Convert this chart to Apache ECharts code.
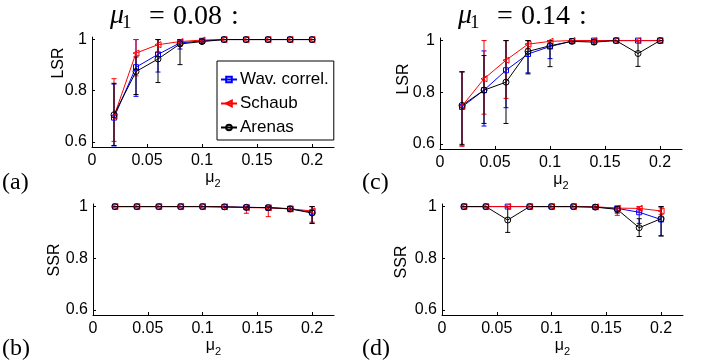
<!DOCTYPE html>
<html>
<head>
<meta charset="utf-8">
<script src="https://cdn.jsdelivr.net/npm/echarts@6/dist/echarts.min.js"></script>
<style>
html, body { margin: 0; padding: 0; background: #fff; }
#chart { width: 702px; height: 364px; }
</style>
</head>
<body>
<div id="chart"></div>
<script>
// mu_2 values on the x axis
const mu2 = [0.02, 0.04, 0.06, 0.08, 0.10, 0.12, 0.14, 0.16, 0.18, 0.20]
const xTicks = [0, 0.05, 0.1, 0.15, 0.2]
const yTicks = [0.6, 0.8, 1]
const names = ['Wav. correl.', 'Schaub', 'Arenas']
const mu1Values = ['0.08', '0.14']
const panelLetters = ['(a)', '(b)', '(c)', '(d)']

// (a) LSR, mu1 = 0.08
const lsrA_wav    = [0.695, 0.892, 0.942, 0.987, 0.995, 1, 1, 1, 1, 1]
const lsrA_wavLo  = [0.584, 0.778, 0.873, 0.963, 0.985, 1, 1, 1, 1, 1]
const lsrA_wavHi  = [0.826, 1, 1, 1, 1, 1, 1, 1, 1, 1]
const lsrA_sch    = [0.700, 0.947, 0.980, 0.992, 0.998, 1, 1, 1, 1, 1]
const lsrA_schLo  = [0.602, 0.858, 0.950, 0.975, 0.990, 1, 1, 1, 1, 1]
const lsrA_schHi  = [0.847, 1, 1, 1, 1, 1, 1, 1, 1, 1]
const lsrA_are    = [0.706, 0.875, 0.924, 0.983, 0.992, 1, 1, 1, 1, 1]
const lsrA_areLo  = [0.586, 0.785, 0.832, 0.902, 0.985, 1, 1, 1, 1, 1]
const lsrA_areHi  = [0.829, 0.932, 1, 1, 1, 1, 1, 1, 1, 1]

// (b) SSR, mu1 = 0.08
const ssrB_wav    = [1, 1, 1, 1, 1, 0.999, 0.997, 0.996, 0.992, 0.978]
const ssrB_wavLo  = [1, 1, 1, 1, 1, 0.997, 0.990, 0.985, 0.983, 0.935]
const ssrB_wavHi  = [1, 1, 1, 1, 1, 1, 1, 1, 1, 1]
const ssrB_sch    = [1, 1, 1, 1, 1, 0.999, 0.996, 0.995, 0.991, 0.983]
const ssrB_schLo  = [1, 1, 1, 1, 1, 0.997, 0.974, 0.961, 0.980, 0.940]
const ssrB_schHi  = [1, 1, 1, 1, 1, 1, 1, 1, 1, 1]
const ssrB_are    = [1, 1, 1, 1, 1, 0.999, 0.997, 0.996, 0.991, 0.975]
const ssrB_areLo  = [1, 1, 1, 1, 1, 0.997, 0.990, 0.988, 0.982, 0.935]
const ssrB_areHi  = [1, 1, 1, 1, 1, 1, 1, 1, 1, 1]

// (c) LSR, mu1 = 0.14
const lsrC_wav    = [0.743, 0.808, 0.885, 0.948, 0.977, 0.998, 1, 1, 1, 1]
const lsrC_wavLo  = [0.592, 0.669, 0.740, 0.875, 0.930, 0.995, 1, 1, 1, 1]
const lsrC_wavHi  = [0.879, 0.960, 1, 1, 1, 1, 1, 1, 1, 1]
const lsrC_sch    = [0.746, 0.852, 0.924, 0.986, 0.997, 1, 1, 1, 1, 1]
const lsrC_schLo  = [0.591, 0.715, 0.776, 0.970, 0.990, 1, 1, 1, 1, 1]
const lsrC_schHi  = [0.879, 1, 1, 1, 1, 1, 1, 1, 1, 1]
const lsrC_are    = [0.749, 0.808, 0.839, 0.958, 0.980, 0.997, 0.994, 1, 0.950, 1]
const lsrC_areLo  = [0.598, 0.679, 0.679, 0.871, 0.899, 0.990, 0.985, 1, 0.900, 1]
const lsrC_areHi  = [0.879, 0.942, 1, 1, 1, 1, 1, 1, 1, 1]

// (d) SSR, mu1 = 0.14
const ssrD_wav    = [1, 1, 1, 1, 1, 1, 0.998, 0.993, 0.978, 0.950]
const ssrD_wavLo  = [1, 1, 1, 1, 1, 1, 0.995, 0.980, 0.935, 0.887]
const ssrD_wavHi  = [1, 1, 1, 1, 1, 1, 1, 1, 1, 1]
const ssrD_sch    = [1, 1, 1, 1, 1, 1, 0.999, 0.994, 0.993, 0.983]
const ssrD_schLo  = [1, 1, 1, 1, 1, 1, 0.997, 0.966, 0.978, 0.970]
const ssrD_schHi  = [1, 1, 1, 1, 1, 1, 1, 1, 1, 0.995]
const ssrD_are    = [1, 1, 0.948, 1, 1, 1, 0.998, 0.989, 0.918, 0.953]
const ssrD_areLo  = [1, 1, 0.900, 1, 1, 1, 0.995, 0.975, 0.884, 0.886]
const ssrD_areHi  = [1, 1, 1, 1, 1, 1, 1, 1, 0.953, 1]

const FONT = 'Liberation Sans'
const SERIF = 'Liberation Serif'

const styles = [
  { color: '#0000ff', symbol: 'rect', size: 5, rotate: 0 },
  { color: '#ff0000', symbol: 'triangle', size: 6, rotate: 90 },
  { color: '#000000', symbol: 'circle', size: 6, rotate: 0 }
]

const panels = [
  { grid: { left: 92, top: 37, width: 242, height: 110 }, ylabel: 'LSR', ylab: [59, 63],
    sets: [[lsrA_wav, lsrA_wavLo, lsrA_wavHi], [lsrA_sch, lsrA_schLo, lsrA_schHi], [lsrA_are, lsrA_areLo, lsrA_areHi]] },
  { grid: { left: 93, top: 204, width: 241, height: 111 }, ylabel: 'SSR', ylab: [55, 260],
    sets: [[ssrB_wav, ssrB_wavLo, ssrB_wavHi], [ssrB_sch, ssrB_schLo, ssrB_schHi], [ssrB_are, ssrB_areLo, ssrB_areHi]] },
  { grid: { left: 440, top: 38, width: 242, height: 111 }, ylabel: 'LSR', ylab: [404, 79],
    sets: [[lsrC_wav, lsrC_wavLo, lsrC_wavHi], [lsrC_sch, lsrC_schLo, lsrC_schHi], [lsrC_are, lsrC_areLo, lsrC_areHi]] },
  { grid: { left: 442, top: 204, width: 241, height: 111 }, ylabel: 'SSR', ylab: [402, 262],
    sets: [[ssrD_wav, ssrD_wavLo, ssrD_wavHi], [ssrD_sch, ssrD_schLo, ssrD_schHi], [ssrD_are, ssrD_areLo, ssrD_areHi]] }
]
const letterPos = [[2, 183], [2, 349], [362, 183], [362, 349]]

function errorBars(params, api) {
  const x = api.value(0)
  const lo = api.coord([x, api.value(1)])
  const hi = api.coord([x, api.value(2)])
  const w = 2.5
  const style = { stroke: api.visual('color'), lineWidth: 1 }
  return {
    type: 'group',
    children: [
      { type: 'line', shape: { x1: lo[0], y1: lo[1], x2: hi[0], y2: hi[1] }, style },
      { type: 'line', shape: { x1: lo[0] - w, y1: lo[1], x2: lo[0] + w, y2: lo[1] }, style },
      { type: 'line', shape: { x1: hi[0] - w, y1: hi[1], x2: hi[0] + w, y2: hi[1] }, style }
    ]
  }
}

const axisTextStyle = { fontFamily: FONT, fontSize: 16, color: '#000' }

const grids = [], xAxes = [], yAxes = [], series = [], graphics = []
panels.forEach((p, k) => {
  grids.push(p.grid)
  xAxes.push({
    gridIndex: k, type: 'value', min: 0, max: 0.22,
    axisLine: { lineStyle: { color: '#000', width: 1 } },
    axisTick: { inside: true, length: 3, customValues: xTicks, lineStyle: { color: '#000' } },
    axisLabel: Object.assign({ customValues: xTicks, margin: 6 }, axisTextStyle),
    splitLine: { show: false },
    name: '{m|μ}{s|2}', nameLocation: 'middle', nameGap: 13,
    nameTextStyle: {
      rich: {
        m: { fontFamily: FONT, fontSize: 16, color: '#000', lineHeight: 24, verticalAlign: 'middle' },
        s: { fontFamily: FONT, fontSize: 11, color: '#000', lineHeight: 24, verticalAlign: 'bottom' }
      }
    }
  })
  yAxes.push({
    gridIndex: k, type: 'value', min: 0.58, max: 1.01,
    axisLine: { show: true, lineStyle: { color: '#000', width: 1 } },
    axisTick: { show: true, inside: true, length: 3, customValues: yTicks, lineStyle: { color: '#000' } },
    axisLabel: Object.assign({ customValues: yTicks, margin: 5 }, axisTextStyle),
    splitLine: { show: false }
  })
  p.sets.forEach((s, i) => {
    const st = styles[i]
    series.push({
      name: names[i] + ' error', type: 'custom', xAxisIndex: k, yAxisIndex: k,
      renderItem: errorBars, itemStyle: { color: st.color },
      encode: { x: 0, y: [1, 2] },
      data: mu2.map((x, j) => [x, s[1][j], s[2][j]]),
      clip: false, silent: true
    })
    series.push({
      name: names[i], type: 'line', xAxisIndex: k, yAxisIndex: k,
      data: mu2.map((x, j) => [x, s[0][j]]),
      symbol: st.symbol, symbolSize: st.size, symbolRotate: st.rotate, showSymbol: true,
      lineStyle: { color: st.color, width: 1 },
      itemStyle: { color: 'rgba(0,0,0,0)', borderColor: st.color, borderWidth: 1 },
      clip: false
    })
  })
  graphics.push({
    type: 'text', x: p.ylab[0], y: p.ylab[1], rotation: Math.PI / 2,
    style: { text: p.ylabel, fontFamily: FONT, fontSize: 16, fill: '#000', align: 'center', verticalAlign: 'middle' }
  })
  graphics.push({
    type: 'text', x: letterPos[k][0], y: letterPos[k][1],
    style: { text: panelLetters[k], fontFamily: SERIF, fontSize: 24, fill: '#000', align: 'left', verticalAlign: 'middle' }
  })
})

// titles  "μ1 = value :"
function mathTitle(x0, value) {
  const base = { fontFamily: SERIF, fontSize: 28, fill: '#000', verticalAlign: 'middle' }
  return [
    { type: 'text', x: x0, y: 16, style: Object.assign({}, base, { text: 'μ', fontStyle: 'italic', align: 'left' }) },
    { type: 'text', x: x0 + 12, y: 23, style: Object.assign({}, base, { text: '1', fontSize: 19, align: 'left' }) },
    { type: 'text', x: x0 + 47, y: 17, style: Object.assign({}, base, { text: '=', align: 'center' }) },
    { type: 'text', x: x0 + 63, y: 17, style: Object.assign({}, base, { text: value, align: 'left' }) },
    { type: 'text', x: x0 + 125, y: 17, style: Object.assign({}, base, { text: ':', align: 'center' }) }
  ]
}
graphics.push(...mathTitle(110, mu1Values[0]), ...mathTitle(458, mu1Values[1]))

const chart = echarts.init(document.getElementById('chart'), null, { renderer: 'canvas' })
chart.setOption({
  animation: false,
  backgroundColor: '#fff',
  grid: grids,
  xAxis: xAxes,
  yAxis: yAxes,
  legend: {
    data: names, orient: 'vertical', left: 217, top: 61,
    padding: [10, 5, 4, 3], itemGap: 7, itemWidth: 16, itemHeight: 7,
    borderColor: '#000', borderWidth: 1, borderRadius: 0, backgroundColor: '#fff',
    textStyle: { fontFamily: FONT, fontSize: 17, color: '#000', padding: [0, 0, 0, -2] },
    selectedMode: false
  },
  graphic: { elements: graphics },
  series
})
</script>
</body>
</html>
